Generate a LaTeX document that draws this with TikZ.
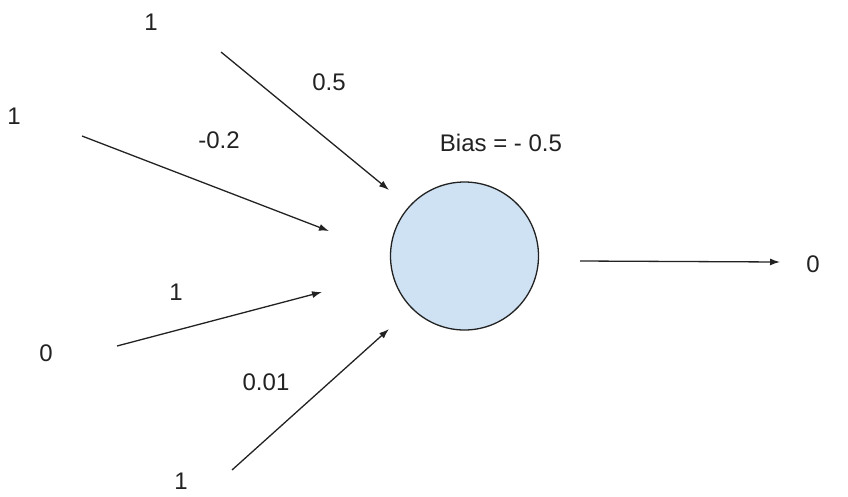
\documentclass[tikz,border=0pt]{standalone}
\usepackage{fontspec}
\setmainfont{Liberation Sans}
\usetikzlibrary{arrows.meta}
\definecolor{neuronfill}{HTML}{CFE2F3}
\definecolor{ink}{HTML}{222222}
\begin{document}
\begin{tikzpicture}[x=1pt,y=-1pt,
  lbl/.style={inner sep=0pt, font=\fontsize{24}{28}\selectfont, text=ink},
  wire/.style={draw=ink, line width=1.3pt, -{Latex[length=10pt,width=7pt]}},
  neuron/.style={circle, draw=ink, line width=1.3pt, fill=neuronfill, minimum size=148pt, inner sep=0pt}]
\useasboundingbox (0,0) rectangle (848,496);
% the neuron
\node[neuron] (n) at (464.5,256) {};
% input arrows
\coordinate (s1) at (221,52);  \coordinate (e1) at (389,190);
\coordinate (s2) at (82,136);  \coordinate (e2) at (329,231);
\coordinate (s3) at (117,346); \coordinate (e3) at (322,292);
\coordinate (s4) at (232,470); \coordinate (e4) at (389,329);
\coordinate (s5) at (580,261); \coordinate (e5) at (780,262);
\draw[wire] (s1) -- (e1);
\draw[wire] (s2) -- (e2);
\draw[wire] (s3) -- (e3);
\draw[wire] (s4) -- (e4);
\draw[wire] (s5) -- (e5);
% inputs
\node[lbl] (i1) at (151,22) {1};
\node[lbl] (i2) at (14,116) {1};
\node[lbl] (i3) at (46,353) {0};
\node[lbl] (i4) at (181,481) {1};
% weights
\node[lbl] (w1) at (329,82) {0.5};
\node[lbl] (w2) at (219,140) {-0.2};
\node[lbl] (w3) at (176,292) {1};
\node[lbl] (w4) at (266,382) {0.01};
% bias and output
\node[lbl] (b) at (501,143) {Bias = - 0.5};
\node[lbl] (o) at (813,264) {0};
\end{tikzpicture}
\end{document}
